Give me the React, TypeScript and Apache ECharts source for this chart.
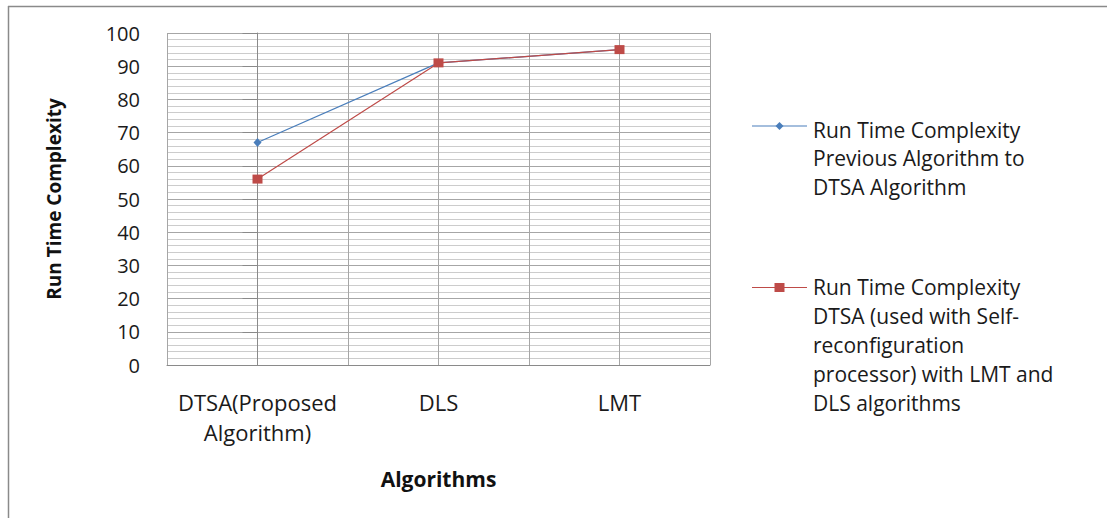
import React, { useEffect, useRef } from "react";
import * as echarts from "echarts";

const categories = ["DTSA(Proposed\nAlgorithm)", "DLS", "LMT"];
const previousToDtsa = [67, 91, 95];
const dtsaSelfReconfig = [56, 91, 95];
const seriesNames = [
  "Run Time Complexity\nPrevious Algorithm to\nDTSA Algorithm",
  "Run Time Complexity\nDTSA (used with Self-\nreconfiguration\nprocessor) with LMT and\nDLS algorithms",
];
const seriesColors = ["#4a7ebb", "#be4b48"];
const xAxisTitle = "Algorithms";
const yAxisTitle = "Run Time Complexity";

const FONT = "'Open Sans', 'DejaVu Sans', sans-serif";

export default function App() {
  const ref = useRef<HTMLDivElement>(null);

  useEffect(() => {
    if (!ref.current) return;
    const chart = echarts.init(ref.current, undefined, { renderer: "svg" });

    const legendItem = (idx: number, y: number, textTop: number, lh: number, symbol: any) => ({
      type: "group",
      children: [
        {
          type: "line",
          shape: { x1: 752, y1: y, x2: 807, y2: y },
          style: { stroke: seriesColors[idx], lineWidth: 1.2 },
        },
        symbol,
        {
          type: "text",
          x: 813,
          y: textTop,
          style: {
            text: seriesNames[idx],
            font: `21px ${FONT}`,
            lineHeight: lh,
            fill: "#1a1a1a",
            verticalAlign: "top",
            align: "left",
          },
        },
      ],
    });

    chart.setOption({
      animation: false,
      backgroundColor: "#ffffff",
      grid: { left: 167, right: 1107 - 710, top: 33, bottom: 518 - 365 },
      xAxis: {
        type: "value",
        min: -0.5,
        max: 2.5,
        interval: 0.5,
        name: xAxisTitle,
        nameLocation: "middle",
        nameGap: 103,
        nameTextStyle: { fontFamily: FONT, fontSize: 21, fontWeight: "bold", color: "#111" },
        axisLine: { show: true, lineStyle: { color: "#8a8a8a", width: 1 } },
        axisTick: { show: false },
        splitLine: { show: true, lineStyle: { color: "#a6a6a6", width: 1 } },
        axisLabel: {
          margin: 22,
          fontFamily: FONT,
          fontSize: 22,
          lineHeight: 30,
          color: "#1a1a1a",
          formatter: (v: number) => {
            const i = Math.round(v);
            return Math.abs(v - i) < 1e-6 && categories[i] !== undefined ? categories[i] : "";
          },
        },
      },
      yAxis: {
        type: "value",
        min: 0,
        max: 100,
        interval: 10,
        name: yAxisTitle,
        nameLocation: "middle",
        nameGap: 104,
        nameRotate: 90,
        nameTextStyle: { fontFamily: FONT, fontSize: 19, fontWeight: "bold", color: "#111" },
        axisLine: { show: true, lineStyle: { color: "#8a8a8a", width: 1 } },
        axisTick: { show: true, length: 15, lineStyle: { color: "#8a8a8a" } },
        minorTick: { show: false, splitNumber: 5 },
        minorSplitLine: { show: true, lineStyle: { color: "#cccccc", width: 1 } },
        splitLine: { show: true, lineStyle: { color: "#a6a6a6", width: 1 } },
        axisLabel: { margin: 27, fontFamily: FONT, fontSize: 20, color: "#1a1a1a" },
      },
      series: [
        {
          name: seriesNames[0],
          type: "line",
          data: previousToDtsa.map((v, i) => [i, v]),
          symbol: "diamond",
          symbolSize: [8, 9],
          itemStyle: { color: seriesColors[0] },
          lineStyle: { color: seriesColors[0], width: 1.2 },
          z: 2,
        },
        {
          name: seriesNames[1],
          type: "line",
          data: dtsaSelfReconfig.map((v, i) => [i, v]),
          symbol: "rect",
          symbolSize: [10, 9],
          itemStyle: { color: seriesColors[1] },
          lineStyle: { color: seriesColors[1], width: 1.2 },
          z: 3,
        },
      ],
      graphic: [
        {
          type: "line",
          shape: { x1: 8, y1: 6.5, x2: 1107, y2: 6.5 },
          style: { stroke: "#8a8a8a", lineWidth: 1.5 },
        },
        {
          type: "line",
          shape: { x1: 8.5, y1: 6, x2: 8.5, y2: 518 },
          style: { stroke: "#8a8a8a", lineWidth: 1.5 },
        },
        legendItem(0, 126, 115.5, 28.5, {
          type: "polygon",
          shape: { points: [[779.5, 122], [783.5, 126], [779.5, 130], [775.5, 126]] },
          style: { fill: seriesColors[0] },
        }),
        legendItem(1, 287.5, 272.5, 29, {
          type: "rect",
          shape: { x: 774.5, y: 283, width: 10, height: 9 },
          style: { fill: seriesColors[1] },
        }),
      ],
    });

    return () => chart.dispose();
  }, []);

  return (
    <div
      ref={ref}
      style={{ position: "fixed", left: 0, top: 0, width: 1107, height: 518, background: "#fff" }}
    />
  );
}
